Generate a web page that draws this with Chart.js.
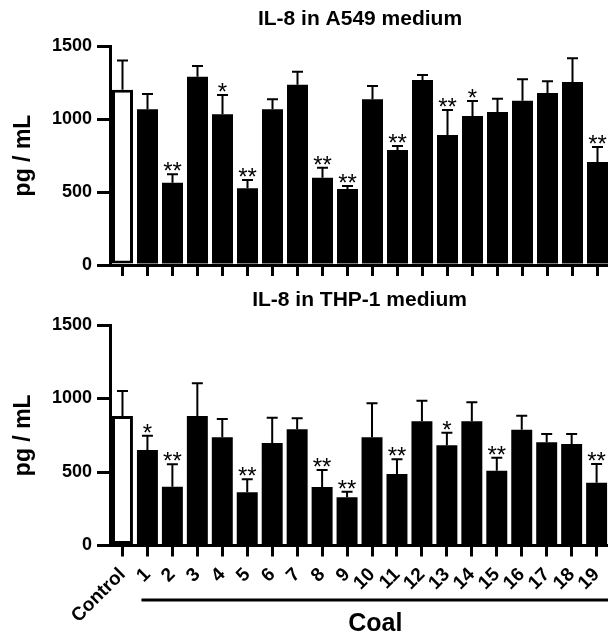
<!DOCTYPE html>
<html lang="en">
<head>
  <meta charset="UTF-8">
  <title>IL-8</title>
  <script src="https://cdn.jsdelivr.net/npm/chart.js"></script>
  <style>
    body {
      margin: 0;
      background: #fff;
      width: 608px;
      height: 636px;
      overflow: hidden;
    }
    canvas {
      display: block;
    }
  </style>
</head>
<body>
  <canvas id="chartA549" width="620" height="282"></canvas>
  <canvas id="chartTHP1" width="620" height="354"></canvas>

  <script>
    const labels = ['Control', '1', '2', '3', '4', '5', '6', '7', '8', '9',
      '10', '11', '12', '13', '14', '15', '16', '17', '18', '19'];
    const yTicks = [0, 500, 1000, 1500];
    const groupLabel = 'Coal';

    const a549Mean = [1200, 1066, 564, 1290, 1032, 525, 1066, 1235, 598, 521,
      1135, 788, 1267, 890, 1021, 1048, 1125, 1178, 1253, 705];
    const a549Err = [200, 105, 57, 73, 132, 57, 69, 89, 68, 20,
      91, 27, 34, 171, 102, 91, 147, 80, 163, 103];
    const a549Sig = ['', '', '**', '', '*', '**', '', '', '**', '**',
      '', '**', '', '**', '*', '', '', '', '', '**'];

    const thp1Mean = [881, 650, 400, 881, 736, 362, 697, 790, 398, 328,
      736, 486, 845, 682, 845, 509, 788, 702, 690, 427];
    const thp1Err = [170, 97, 152, 222, 124, 88, 172, 75, 116, 38,
      231, 100, 140, 85, 129, 88, 95, 57, 69, 127];
    const thp1Sig = ['', '*', '**', '', '', '**', '', '', '**', '**',
      '', '**', '', '*', '', '**', '', '', '', '**'];

    const FONT = '"Liberation Sans", Arial, sans-serif';
    Chart.defaults.font.family = FONT;
    Chart.defaults.color = '#000';

    // error bars + significance stars on top of each bar
    const errorBars = {
      id: 'errorBars',
      afterDatasetsDraw(chart, args, opts) {
        const ctx = chart.ctx;
        const yScale = chart.scales.y;
        const values = chart.data.datasets[0].data;
        const meta = chart.getDatasetMeta(0);
        ctx.save();
        ctx.strokeStyle = '#000';
        ctx.fillStyle = '#000';
        ctx.lineWidth = 2;
        meta.data.forEach((bar, i) => {
          const top = yScale.getPixelForValue(values[i] + opts.errors[i]);
          ctx.beginPath();
          ctx.moveTo(bar.x, bar.y);
          ctx.lineTo(bar.x, top);
          ctx.moveTo(bar.x - 5.5, top);
          ctx.lineTo(bar.x + 5.5, top);
          ctx.stroke();
          if (opts.marks[i]) {
            ctx.font = '24px ' + FONT;
            ctx.textAlign = 'center';
            ctx.textBaseline = 'alphabetic';
            ctx.fillText(opts.marks[i], bar.x, top + 5);
          }
        });
        ctx.restore();
      }
    };

    // bracket line and group name under the coal samples
    const groupBracket = {
      id: 'groupBracket',
      afterDraw(chart, args, opts) {
        if (!opts.text) return;
        const ctx = chart.ctx;
        const xScale = chart.scales.x;
        const x1 = xScale.getPixelForValue(1) - 6;
        const x2 = chart.chartArea.right;
        const ly = chart.chartArea.bottom + 54.5;
        ctx.save();
        ctx.strokeStyle = '#000';
        ctx.lineWidth = 3;
        ctx.beginPath();
        ctx.moveTo(x1, ly);
        ctx.lineTo(x2, ly);
        ctx.stroke();
        ctx.fillStyle = '#000';
        ctx.font = 'bold 25px ' + FONT;
        ctx.textAlign = 'center';
        ctx.textBaseline = 'middle';
        ctx.fillText(opts.text, (x1 + x2) / 2, ly + 24);
        ctx.restore();
      }
    };

    function makeChart(id, title, means, errs, sigs, showLabels, axisHeight, titlePad) {
      const ctx = document.getElementById(id).getContext('2d');
      return new Chart(ctx, {
        type: 'bar',
        data: {
          labels: labels,
          datasets: [{
            data: means,
            backgroundColor: labels.map((l, i) => i === 0 ? '#fff' : '#000'),
            borderColor: '#000',
            borderWidth: labels.map((l, i) => i === 0 ? 3 : 0),
            borderSkipped: false,
            barPercentage: 0.84,
            categoryPercentage: 1.0
          }]
        },
        options: {
          responsive: false,
          animation: false,
          layout: { padding: { left: 0, right: 10, top: 0, bottom: 0 } },
          plugins: {
            legend: { display: false },
            tooltip: { enabled: false },
            title: {
              display: true,
              text: title,
              fullSize: false,
              color: '#000',
              font: { size: 21, weight: 'bold', family: FONT },
              padding: titlePad
            },
            errorBars: { errors: errs, marks: sigs },
            groupBracket: { text: showLabels ? groupLabel : '' }
          },
          scales: {
            x: {
              grid: {
                display: true,
                offset: false,
                drawOnChartArea: false,
                drawTicks: true,
                tickLength: 11,
                tickWidth: 3,
                lineWidth: 3,
                color: '#000'
              },
              border: { display: true, width: 3, color: '#000', z: 1 },
              ticks: {
                display: showLabels,
                autoSkip: false,
                minRotation: 45,
                maxRotation: 45,
                padding: 7,
                color: '#000',
                font: { size: 19, weight: 'bold', family: FONT }
              },
              afterFit(scale) { scale.height = axisHeight; }
            },
            y: {
              min: 0,
              max: 1500,
              afterBuildTicks(scale) { scale.ticks = yTicks.map(v => ({ value: v })); },
              grid: {
                display: true,
                drawOnChartArea: false,
                drawTicks: true,
                tickLength: 13,
                tickWidth: 3,
                lineWidth: 3,
                color: '#000'
              },
              border: { display: true, width: 3, color: '#000', z: 1 },
              ticks: {
                padding: 5,
                color: '#000',
                font: { size: 18, weight: 'bold', family: FONT },
                callback: (v) => String(v)
              },
              title: {
                display: true,
                text: 'pg / mL',
                color: '#000',
                font: { size: 23, weight: 'bold', family: FONT },
                padding: { top: 10, bottom: 0 }
              },
              afterFit(scale) { scale.width = 110; }
            }
          }
        },
        plugins: [errorBars, groupBracket]
      });
    }

    makeChart('chartA549', 'IL-8 in A549 medium', a549Mean, a549Err, a549Sig,
      false, 17, { top: 6.4, bottom: 14.4 });
    makeChart('chartTHP1', 'IL-8 in THP-1 medium', thp1Mean, thp1Err, thp1Sig,
      true, 90.5, { top: 5.4, bottom: 12.4 });
  </script>
</body>
</html>
